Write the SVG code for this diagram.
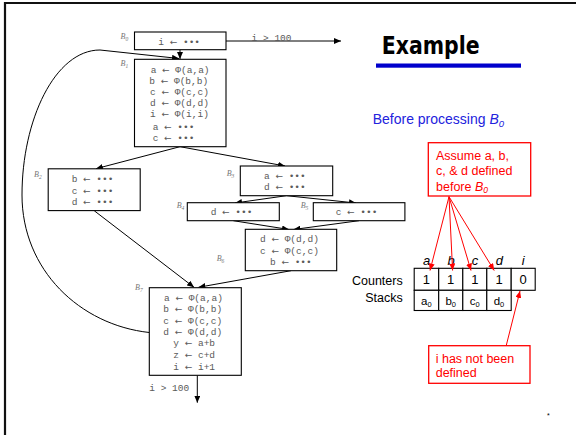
<svg xmlns="http://www.w3.org/2000/svg" width="576" height="435" viewBox="0 0 576 435">
  <style>
    .box { fill: #fff; stroke: #000; stroke-width: 1.1; }
    .code { font-family: "Liberation Mono", "DejaVu Sans Mono", monospace; font-size: 9.5px; fill: #5a5a5a; }
    .ar { font-family: "DejaVu Sans", sans-serif; font-size: 9px; }
    .lbl { font-family: "Liberation Serif", serif; font-style: italic; font-size: 8px; fill: #777; }
    .sub { font-size: 5.5px; }
    .edge { fill: none; stroke: #000; stroke-width: 1; }
    .redge { fill: none; stroke: #f00; stroke-width: 1; }
    .sans { font-family: "Liberation Sans", Arial, sans-serif; }
    .note { font-family: "Liberation Sans", Arial, sans-serif; font-size: 12.5px; fill: #f00; }
    .nbox { fill: #fff; stroke: #f00; stroke-width: 1.3; }
    .cell { fill: #fff; stroke: #000; stroke-width: 1.1; }
    .val { font-family: "Liberation Sans", Arial, sans-serif; font-size: 13px; fill: #000; text-anchor: middle; }
    .hdr { font-family: "Liberation Sans", Arial, sans-serif; font-size: 13px; font-style: italic; fill: #000; text-anchor: middle; }
    .stk { font-family: "Liberation Sans", Arial, sans-serif; font-size: 11.5px; fill: #000; text-anchor: middle; }
  </style>
  <defs>
    <marker id="ah" markerUnits="userSpaceOnUse" markerWidth="8" markerHeight="6" refX="7" refY="3" orient="auto">
      <path d="M0,0 L7,3 L0,6 z" fill="#000"/>
    </marker>
    <marker id="ahr" markerUnits="userSpaceOnUse" markerWidth="8" markerHeight="6" refX="7" refY="3" orient="auto">
      <path d="M0,0 L7,3 L0,6 z" fill="#f00"/>
    </marker>
  </defs>

  <rect width="576" height="435" fill="#fff"/>
  <!-- slide frame -->
  <path d="M5,435 V3 H576" fill="none" stroke="#111" stroke-width="2.2"/>

  <!-- connectors -->
  <g id="edges">
    <path class="edge" d="M226,41 H341" marker-end="url(#ah)"/>
    <path class="edge" d="M180,49.7 V59" marker-end="url(#ah)"/>
    <path class="edge" d="M149.3,332.5 C80,325 22,270 22,195 C22,120 55,50 100,50 L179,58.5" marker-end="url(#ah)"/>
    <path class="edge" d="M180,146.7 L96,168.7" marker-end="url(#ah)"/>
    <path class="edge" d="M180,146.7 L285,166" marker-end="url(#ah)"/>
    <path class="edge" d="M286.5,195.7 L235,203" marker-end="url(#ah)"/>
    <path class="edge" d="M286.5,195.7 L356,203" marker-end="url(#ah)"/>
    <path class="edge" d="M233.3,220.7 L289,229.5" marker-end="url(#ah)"/>
    <path class="edge" d="M359,220.7 L293.5,229.5" marker-end="url(#ah)"/>
    <path class="edge" d="M94.2,210.7 L194,287.3" marker-end="url(#ah)"/>
    <path class="edge" d="M291,270.7 L198.5,287.3" marker-end="url(#ah)"/>
    <path class="edge" d="M197.3,375.3 V402.7" marker-end="url(#ah)"/>
    <text class="code" x="251.6" y="41.3">i &gt; 100</text>
    <text class="code" x="149.3" y="391.3">i &gt; 100</text>
  </g>

  <g id="B0">
    <rect class="box" x="134.5" y="32" width="91.5" height="17.7"/>
    <text class="lbl" x="120.5" y="39">B<tspan class="sub" dy="2">0</tspan></text>
    <text class="code" x="158.3" y="44.7">i <tspan class="ar">←</tspan> •••</text>
  </g>

  <g id="B1">
    <rect class="box" x="134.5" y="59.3" width="91.5" height="87.4"/>
    <text class="lbl" x="120.5" y="66">B<tspan class="sub" dy="2">1</tspan></text>
    <text class="code" x="150.7" y="72.7">a <tspan class="ar">←</tspan> Φ(a,a)</text>
    <text class="code" x="149.3" y="84">b <tspan class="ar">←</tspan> Φ(b,b)</text>
    <text class="code" x="150" y="94.7">c <tspan class="ar">←</tspan> Φ(c,c)</text>
    <text class="code" x="150" y="106.3">d <tspan class="ar">←</tspan> Φ(d,d)</text>
    <text class="code" x="150" y="117.3">i <tspan class="ar">←</tspan> Φ(i,i)</text>
    <text class="code" x="152.7" y="130.3">a <tspan class="ar">←</tspan> •••</text>
    <text class="code" x="152.7" y="141">c <tspan class="ar">←</tspan> •••</text>
  </g>

  <g id="B2">
    <rect class="box" x="48.2" y="168.8" width="92" height="41.8"/>
    <text class="lbl" x="34" y="177">B<tspan class="sub" dy="2">2</tspan></text>
    <text class="code" x="71.7" y="182.3">b <tspan class="ar">←</tspan> •••</text>
    <text class="code" x="71.7" y="193.7">c <tspan class="ar">←</tspan> •••</text>
    <text class="code" x="71.7" y="205.3">d <tspan class="ar">←</tspan> •••</text>
  </g>

  <g id="B3">
    <rect class="box" x="240.3" y="166" width="92.4" height="29.7"/>
    <text class="lbl" x="226.7" y="176">B<tspan class="sub" dy="2">3</tspan></text>
    <text class="code" x="264" y="179">a <tspan class="ar">←</tspan> •••</text>
    <text class="code" x="264" y="190.3">d <tspan class="ar">←</tspan> •••</text>
  </g>

  <g id="B4">
    <rect class="box" x="187.3" y="202.7" width="92" height="18"/>
    <text class="lbl" x="176.7" y="207.5">B<tspan class="sub" dy="2">4</tspan></text>
    <text class="code" x="210.7" y="215.3">d <tspan class="ar">←</tspan> •••</text>
  </g>

  <g id="B5">
    <rect class="box" x="313.3" y="202.7" width="91.6" height="18"/>
    <text class="lbl" x="300.7" y="207.5">B<tspan class="sub" dy="2">5</tspan></text>
    <text class="code" x="335.7" y="215.3">c <tspan class="ar">←</tspan> •••</text>
  </g>

  <g id="B6">
    <rect class="box" x="245.3" y="229.3" width="91.4" height="41.4"/>
    <text class="lbl" x="216.7" y="261">B<tspan class="sub" dy="2">6</tspan></text>
    <text class="code" x="260" y="242.3">d <tspan class="ar">←</tspan> Φ(d,d)</text>
    <text class="code" x="260" y="253.7">c <tspan class="ar">←</tspan> Φ(c,c)</text>
    <text class="code" x="270" y="264.7">b <tspan class="ar">←</tspan> •••</text>
  </g>

  <g id="B7">
    <rect class="box" x="149.3" y="287.7" width="92" height="87.6"/>
    <text class="lbl" x="135" y="290">B<tspan class="sub" dy="2">7</tspan></text>
    <text class="code" x="164" y="300.7">a <tspan class="ar">←</tspan> Φ(a,a)</text>
    <text class="code" x="163.3" y="312.3">b <tspan class="ar">←</tspan> Φ(b,b)</text>
    <text class="code" x="163.3" y="324">c <tspan class="ar">←</tspan> Φ(c,c)</text>
    <text class="code" x="163.3" y="335">d <tspan class="ar">←</tspan> Φ(d,d)</text>
    <text class="code" x="173.3" y="346.3">y <tspan class="ar">←</tspan> a+b</text>
    <text class="code" x="173.3" y="358">z <tspan class="ar">←</tspan> c+d</text>
    <text class="code" x="173.3" y="370">i <tspan class="ar">←</tspan> i+1</text>
  </g>

  <!-- title -->
  <g id="title">
    <text x="381.7" y="54.3" font-family="'DejaVu Sans', sans-serif" font-weight="bold" font-size="25" fill="#000" textLength="98" lengthAdjust="spacingAndGlyphs">Example</text>
    <rect x="376" y="63.5" width="145" height="4.2" fill="#0000cc"/>
  </g>

  <text class="sans" x="372.7" y="124" font-size="14" fill="#2222dd">Before processing <tspan font-style="italic">B</tspan><tspan font-style="italic" font-size="9.5" dy="3">0</tspan></text>

  <!-- assumption note -->
  <g id="note-assume">
    <rect class="nbox" x="428.3" y="142.7" width="102.4" height="53.3"/>
    <text class="note" x="436" y="159.5">Assume a, b,</text>
    <text class="note" x="436" y="175">c, &amp; d defined</text>
    <text class="note" x="436" y="190.5">before <tspan font-style="italic">B</tspan><tspan font-style="italic" font-size="8.5" dy="2.5">0</tspan></text>
  </g>

  <!-- counters and stacks -->
  <g id="table">
    <text class="sans" x="402.7" y="284.5" font-size="12.5" text-anchor="end">Counters</text>
    <text class="sans" x="402.7" y="301.5" font-size="12.5" text-anchor="end">Stacks</text>
    <rect class="cell" x="414.2" y="268.3" width="24.5" height="22"/>
    <rect class="cell" x="438.7" y="268.3" width="24.1" height="22"/>
    <rect class="cell" x="462.8" y="268.3" width="24" height="22"/>
    <rect class="cell" x="486.8" y="268.3" width="24.4" height="22"/>
    <rect class="cell" x="511.2" y="268.3" width="24" height="22"/>
    <rect class="cell" x="414.2" y="290.3" width="24.5" height="20.2"/>
    <rect class="cell" x="438.7" y="290.3" width="24.1" height="20.2"/>
    <rect class="cell" x="462.8" y="290.3" width="24" height="20.2"/>
    <rect class="cell" x="486.8" y="290.3" width="24.4" height="20.2"/>
    <text class="hdr" x="426.7" y="264.5">a</text>
    <text class="hdr" x="451" y="264.5">b</text>
    <text class="hdr" x="475" y="264.5">c</text>
    <text class="hdr" x="499.3" y="264.5">d</text>
    <text class="hdr" x="523.3" y="264.5">i</text>
    <text class="val" x="426.4" y="284.3">1</text>
    <text class="val" x="450.7" y="284.3">1</text>
    <text class="val" x="474.8" y="284.3">1</text>
    <text class="val" x="499" y="284.3">1</text>
    <text class="val" x="523.2" y="284.3">0</text>
    <text class="stk" x="426.4" y="305">a<tspan font-size="7.5" dy="2">0</tspan></text>
    <text class="stk" x="450.7" y="305">b<tspan font-size="7.5" dy="2">0</tspan></text>
    <text class="stk" x="474.8" y="305">c<tspan font-size="7.5" dy="2">0</tspan></text>
    <text class="stk" x="499" y="305">d<tspan font-size="7.5" dy="2">0</tspan></text>
  </g>

  <!-- undefined-i note -->
  <g id="note-i">
    <rect class="nbox" x="428.7" y="345.7" width="101.3" height="37.6"/>
    <text class="note" x="435.7" y="362.5">i has not been</text>
    <text class="note" x="435.7" y="377">defined</text>
  </g>

  <g id="note-links">
    <path class="redge" d="M449,196.7 L430,270.5" marker-end="url(#ahr)"/>
    <path class="redge" d="M449,196.7 L452.6,270.5" marker-end="url(#ahr)"/>
    <path class="redge" d="M449,196.7 L471,270.5" marker-end="url(#ahr)"/>
    <path class="redge" d="M449,196.7 L494.2,270.5" marker-end="url(#ahr)"/>
    <path class="redge" d="M506.2,345.7 L520,291" marker-end="url(#ahr)"/>
  </g>

  <text x="548.3" y="418" font-family="'Liberation Sans', sans-serif" font-size="7" fill="#000" text-anchor="middle">*</text>
</svg>
